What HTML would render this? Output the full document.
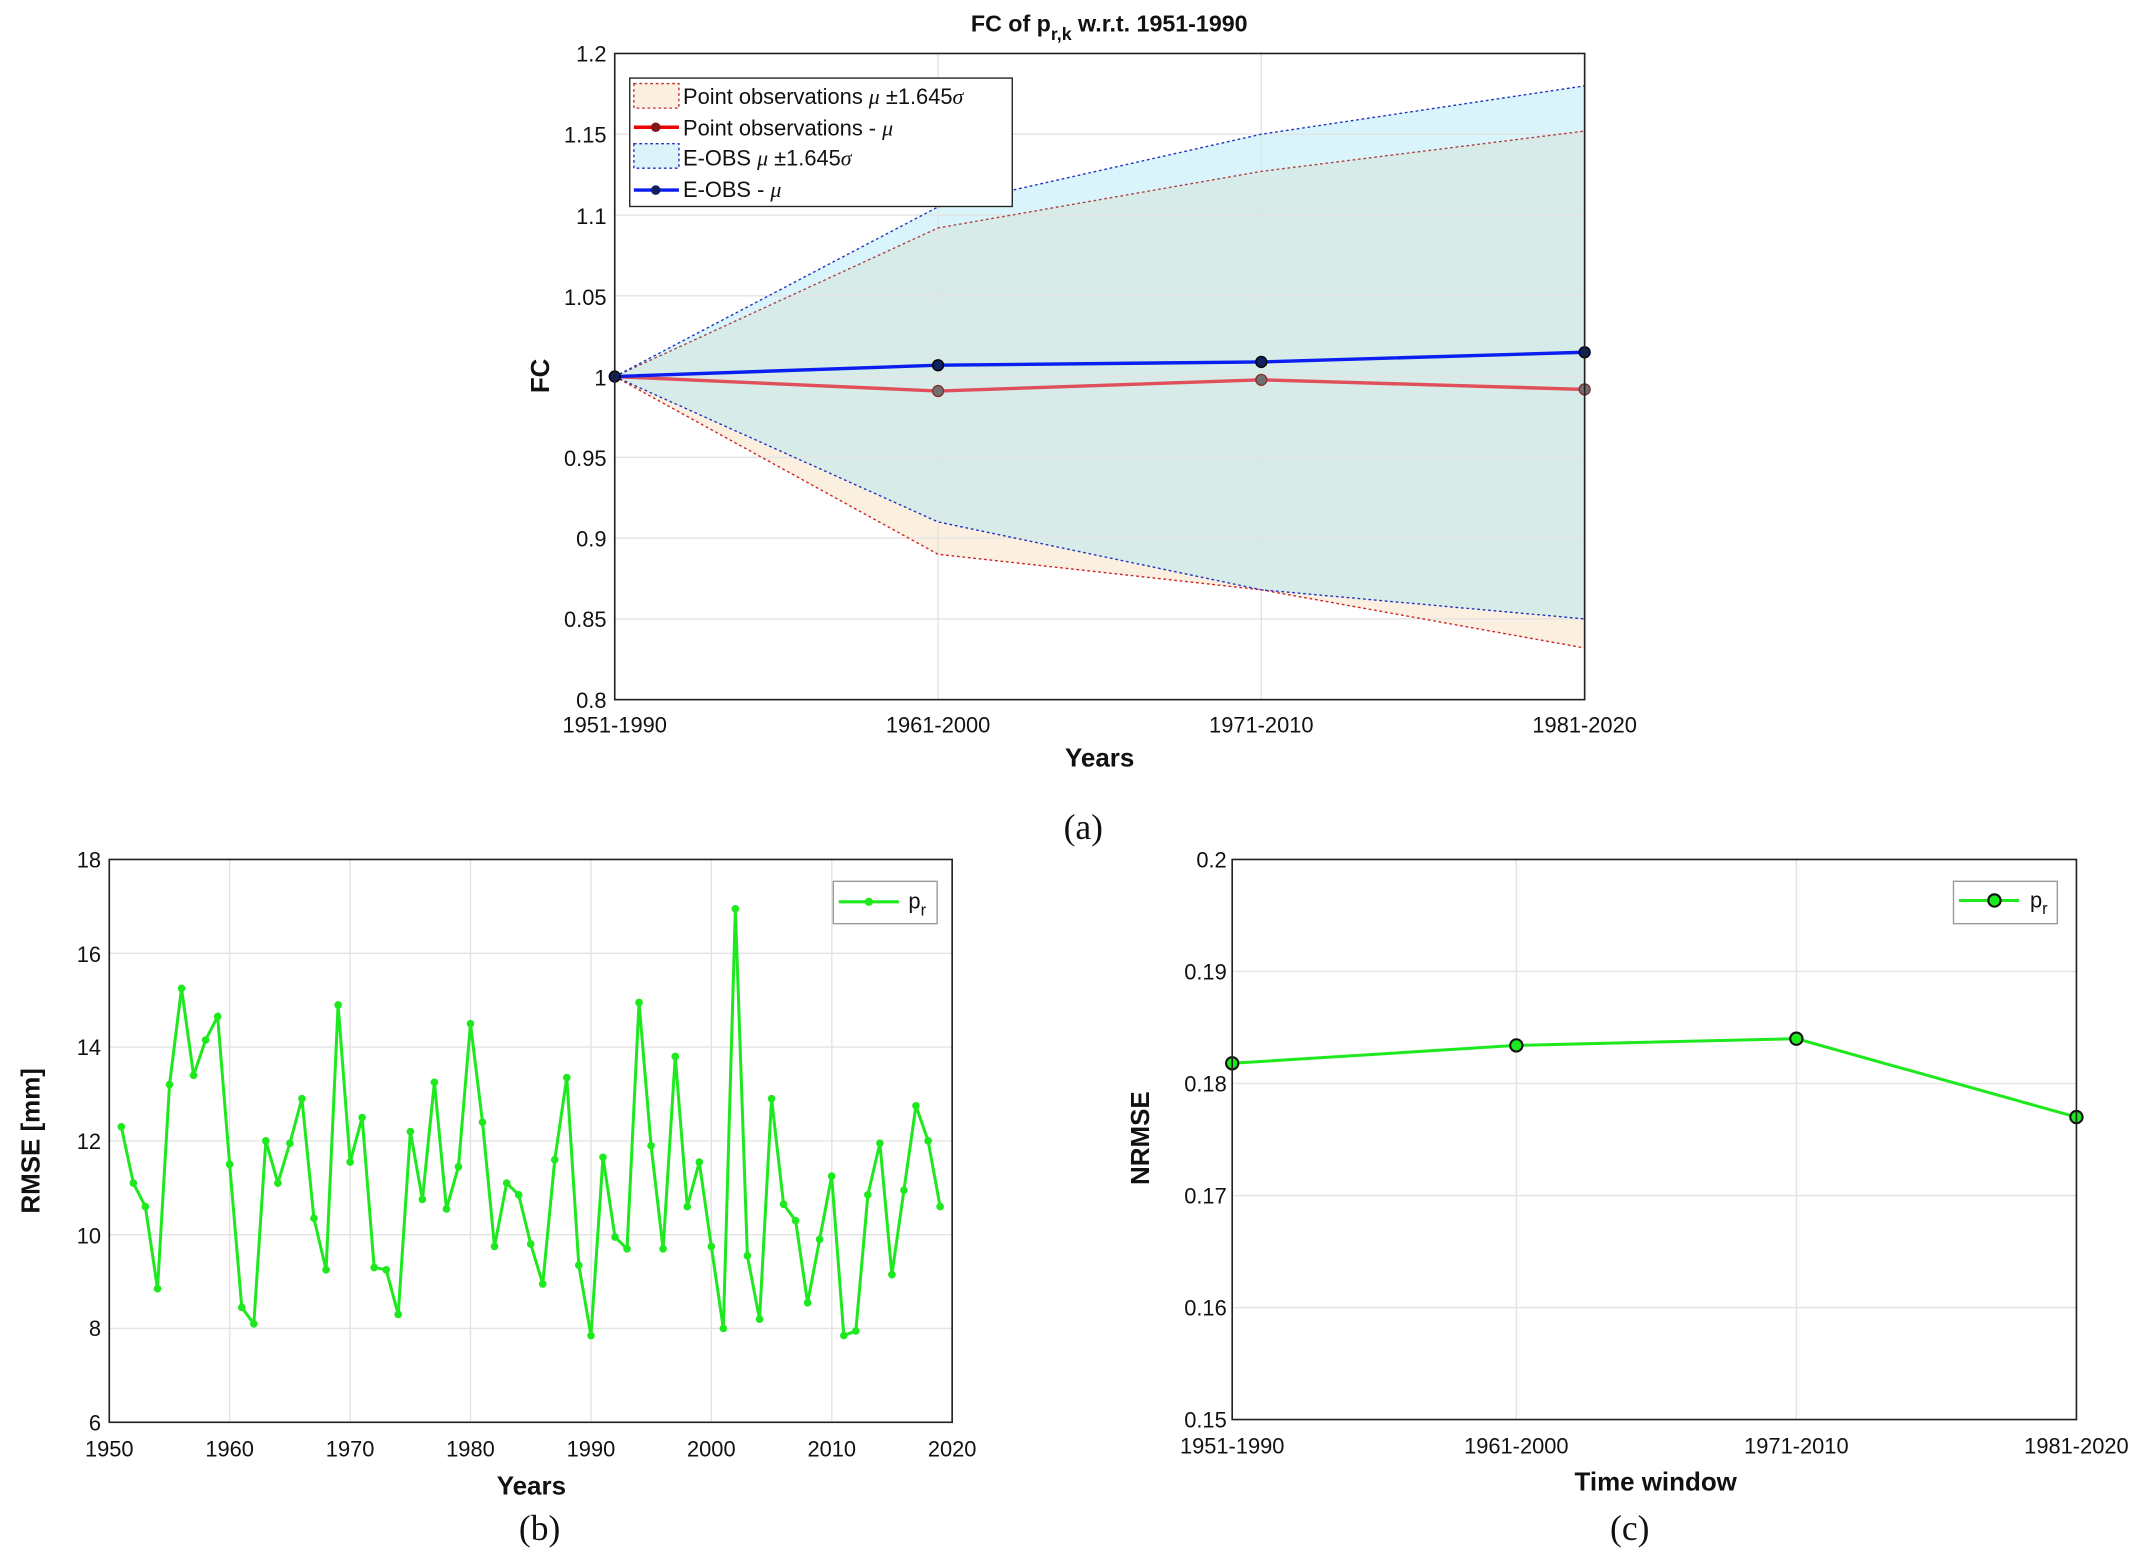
<!DOCTYPE html>
<html><head><meta charset="utf-8"><style>
html,body{margin:0;padding:0;background:#fff}
svg{display:block}
text{font-family:"Liberation Sans",sans-serif;fill:#111}
.t{font-size:16px}
.b{font-size:19px;font-weight:bold}
.s{font-family:"Liberation Serif",serif;font-size:26px}
.g{stroke:#e3e3e3;stroke-width:1}
</style></head><body>
<svg width="2142" height="1555" viewBox="0 0 1568 1138" xmlns="http://www.w3.org/2000/svg">
<!-- ===== Plot (a) ===== -->
<rect x="450" y="39" width="710" height="473" fill="#fff"/>
<polygon points="450,275.5 686.7,166.7 923.3,125.3 1160,95.8 1160,474.2 923.3,431.6 686.7,405.6" fill="#fbf0e0"/>
<polygon points="450,275.5 686.7,151.3 923.3,98.1 1160,62.7 1160,452.9 923.3,431.6 686.7,381.9" fill="rgb(170,230,245)" fill-opacity="0.45"/>
<g class="g">
<line x1="450" x2="1160" y1="452.9" y2="452.9"/><line x1="450" x2="1160" y1="393.7" y2="393.7"/><line x1="450" x2="1160" y1="334.6" y2="334.6"/><line x1="450" x2="1160" y1="275.5" y2="275.5"/><line x1="450" x2="1160" y1="216.4" y2="216.4"/><line x1="450" x2="1160" y1="157.3" y2="157.3"/><line x1="450" x2="1160" y1="98.1" y2="98.1"/>
<line x1="686.7" x2="686.7" y1="39" y2="512"/><line x1="923.3" x2="923.3" y1="39" y2="512"/>
</g>
<polyline points="450,275.5 686.7,166.7 923.3,125.3 1160,95.8" fill="none" stroke="#b04040" stroke-width="1" stroke-dasharray="2,2"/>
<polyline points="450,275.5 686.7,405.6 923.3,431.6 1160,474.2" fill="none" stroke="#d02020" stroke-width="1" stroke-dasharray="2,2"/>
<polyline points="450,275.5 686.7,151.3 923.3,98.1 1160,62.7" fill="none" stroke="#2030c0" stroke-width="1" stroke-dasharray="2,2"/>
<polyline points="450,275.5 686.7,381.9 923.3,431.6 1160,452.9" fill="none" stroke="#2030c0" stroke-width="1" stroke-dasharray="2,2"/>
<polyline points="450,275.5 686.7,286.1 923.3,277.9 1160,284.9" fill="none" stroke="#e0505a" stroke-width="2.5"/>
<g fill="#707070" stroke="#803030" stroke-width="1"><circle cx="686.7" cy="286.1" r="4"/><circle cx="923.3" cy="277.9" r="4"/><circle cx="1160" cy="284.9" r="4"/></g>
<polyline points="450,275.5 686.7,267.2 923.3,264.8 1160,257.7" fill="none" stroke="#0a1ef0" stroke-width="2.5"/>
<g fill="#102060" stroke="#000" stroke-width="1"><circle cx="450" cy="275.5" r="4"/><circle cx="686.7" cy="267.2" r="4"/><circle cx="923.3" cy="264.8" r="4"/><circle cx="1160" cy="257.7" r="4"/></g>
<rect x="450" y="39" width="710" height="473" fill="none" stroke="#222" stroke-width="1.2"/>
<g class="t" text-anchor="end">
<text x="444" y="518">0.8</text><text x="444" y="459">0.85</text><text x="444" y="400">0.9</text><text x="444" y="341">0.95</text><text x="444" y="282">1</text><text x="444" y="223">1.05</text><text x="444" y="164">1.1</text><text x="444" y="104">1.15</text><text x="444" y="45">1.2</text>
</g>
<g class="t" text-anchor="middle">
<text x="450" y="536">1951-1990</text><text x="686.7" y="536">1961-2000</text><text x="923.3" y="536">1971-2010</text><text x="1160" y="536">1981-2020</text>
</g>
<text class="b" x="805" y="561" text-anchor="middle">Years</text>
<text class="b" transform="translate(402,275) rotate(-90)" text-anchor="middle">FC</text>
<text x="812" y="23" text-anchor="middle" style="font-size:17px;font-weight:bold">FC of p<tspan dy="6" font-size="13">r,k</tspan><tspan dy="-6"> w.r.t. 1951-1990</tspan></text>
<!-- legend -->
<rect x="461" y="57" width="280" height="94" fill="#fff" stroke="#222" stroke-width="1"/>
<rect x="464" y="61" width="33" height="18" fill="#fbf0e0" stroke="#c03030" stroke-dasharray="2,2"/>
<rect x="464" y="105" width="33" height="18" fill="#dcf3f9" stroke="#2030c0" stroke-dasharray="2,2"/>
<line x1="464" x2="497" y1="93" y2="93" stroke="#e00" stroke-width="2.5"/><circle cx="480" cy="93" r="3.5" fill="#801818"/>
<line x1="464" x2="497" y1="139" y2="139" stroke="#0a1ef0" stroke-width="2.5"/><circle cx="480" cy="139" r="3.5" fill="#102060"/>
<g class="t">
<text x="500" y="76">Point observations <tspan font-style="italic" font-family="Liberation Serif">μ</tspan> ±1.645<tspan font-style="italic" font-family="Liberation Serif">σ</tspan></text>
<text x="500" y="99">Point observations - <tspan font-style="italic" font-family="Liberation Serif">μ</tspan></text>
<text x="500" y="121">E-OBS <tspan font-style="italic" font-family="Liberation Serif">μ</tspan> ±1.645<tspan font-style="italic" font-family="Liberation Serif">σ</tspan></text>
<text x="500" y="144">E-OBS - <tspan font-style="italic" font-family="Liberation Serif">μ</tspan></text>
</g>
<text class="s" x="793" y="614" text-anchor="middle">(a)</text>

<!-- ===== Plot (b) ===== -->
<g class="g">
<line x1="80" x2="697" y1="972.3" y2="972.3"/><line x1="80" x2="697" y1="903.7" y2="903.7"/><line x1="80" x2="697" y1="835" y2="835"/><line x1="80" x2="697" y1="766.3" y2="766.3"/><line x1="80" x2="697" y1="697.7" y2="697.7"/>
<line x1="168.1" x2="168.1" y1="629" y2="1041"/><line x1="256.3" x2="256.3" y1="629" y2="1041"/><line x1="344.4" x2="344.4" y1="629" y2="1041"/><line x1="432.6" x2="432.6" y1="629" y2="1041"/><line x1="520.7" x2="520.7" y1="629" y2="1041"/><line x1="608.9" x2="608.9" y1="629" y2="1041"/>
</g>
<polyline id="pb" fill="none" stroke="#1ee81e" stroke-width="2.2"/>
<g id="pbm" fill="#1ee81e"></g>
<rect x="80" y="629" width="617" height="412" fill="none" stroke="#222" stroke-width="1.2"/>
<g class="t" text-anchor="end">
<text x="74" y="1047">6</text><text x="74" y="978">8</text><text x="74" y="910">10</text><text x="74" y="841">12</text><text x="74" y="772">14</text><text x="74" y="704">16</text><text x="74" y="635">18</text>
</g>
<g class="t" text-anchor="middle">
<text x="80" y="1066">1950</text><text x="168.1" y="1066">1960</text><text x="256.3" y="1066">1970</text><text x="344.4" y="1066">1980</text><text x="432.6" y="1066">1990</text><text x="520.7" y="1066">2000</text><text x="608.9" y="1066">2010</text><text x="697" y="1066">2020</text>
</g>
<text class="b" x="389" y="1094" text-anchor="middle">Years</text>
<text class="b" transform="translate(29,835) rotate(-90)" text-anchor="middle">RMSE [mm]</text>
<rect x="610" y="645" width="76" height="31" fill="#fff" stroke="#999" stroke-width="1"/>
<line x1="614" x2="658" y1="660" y2="660" stroke="#1ee81e" stroke-width="2.2"/><circle cx="636" cy="660" r="3" fill="#1ee81e"/>
<text class="t" x="665" y="665">p<tspan dy="5" font-size="12">r</tspan></text>
<text class="s" x="395" y="1127" text-anchor="middle">(b)</text>

<!-- ===== Plot (c) ===== -->
<g class="g">
<line x1="902" x2="1520" y1="957" y2="957"/><line x1="902" x2="1520" y1="875" y2="875"/><line x1="902" x2="1520" y1="793" y2="793"/><line x1="902" x2="1520" y1="711" y2="711"/>
<line x1="1110" x2="1110" y1="629" y2="1039"/><line x1="1315" x2="1315" y1="629" y2="1039"/>
</g>
<polyline points="902,778.2 1110,765.1 1315,760.2 1520,817.6" fill="none" stroke="#1ee81e" stroke-width="2.2"/>
<g fill="#1ee81e" stroke="#111" stroke-width="1.5"><circle cx="902" cy="778.2" r="4.5"/><circle cx="1110" cy="765.1" r="4.5"/><circle cx="1315" cy="760.2" r="4.5"/><circle cx="1520" cy="817.6" r="4.5"/></g>
<rect x="902" y="629" width="618" height="410" fill="none" stroke="#222" stroke-width="1.2"/>
<g class="t" text-anchor="end">
<text x="898" y="1045">0.15</text><text x="898" y="963">0.16</text><text x="898" y="881">0.17</text><text x="898" y="799">0.18</text><text x="898" y="717">0.19</text><text x="898" y="635">0.2</text>
</g>
<g class="t" text-anchor="middle">
<text x="902" y="1064">1951-1990</text><text x="1110" y="1064">1961-2000</text><text x="1315" y="1064">1971-2010</text><text x="1520" y="1064">1981-2020</text>
</g>
<text class="b" x="1212" y="1091" text-anchor="middle">Time window</text>
<text class="b" transform="translate(841,833) rotate(-90)" text-anchor="middle">NRMSE</text>
<rect x="1430" y="645" width="76" height="31" fill="#fff" stroke="#999" stroke-width="1"/>
<line x1="1434" x2="1478" y1="659" y2="659" stroke="#1ee81e" stroke-width="2.2"/><circle cx="1460" cy="659" r="4.5" fill="#1ee81e" stroke="#111" stroke-width="1.5"/>
<text class="t" x="1486" y="664">p<tspan dy="5" font-size="12">r</tspan></text>
<text class="s" x="1193" y="1127" text-anchor="middle">(c)</text>
</svg>
<script>
var v=[12.3,11.1,10.6,8.85,13.2,15.25,13.4,14.15,14.65,11.5,8.45,8.1,12.0,11.1,11.95,12.9,10.35,9.25,14.9,11.55,12.5,9.3,9.25,8.3,12.2,10.75,13.25,10.55,11.45,14.5,12.4,9.75,11.1,10.85,9.8,8.95,11.6,13.35,9.35,7.85,11.65,9.95,9.7,14.95,11.9,9.7,13.8,10.6,11.55,9.75,8.0,16.95,9.55,8.2,12.9,10.65,10.3,8.55,9.9,11.25,7.85,7.95,10.85,11.95,9.15,10.95,12.75,12.0,10.6];
var pts=[],m="";
for(var i=0;i<v.length;i++){var x=80+(i+1)*8.814,y=1041-(v[i]-6)*34.33;pts.push(x.toFixed(1)+","+y.toFixed(1));m+='<circle cx="'+x.toFixed(1)+'" cy="'+y.toFixed(1)+'" r="2.8"/>';}
document.getElementById("pb").setAttribute("points",pts.join(" "));
document.getElementById("pbm").innerHTML=m;
</script>
</body></html>
